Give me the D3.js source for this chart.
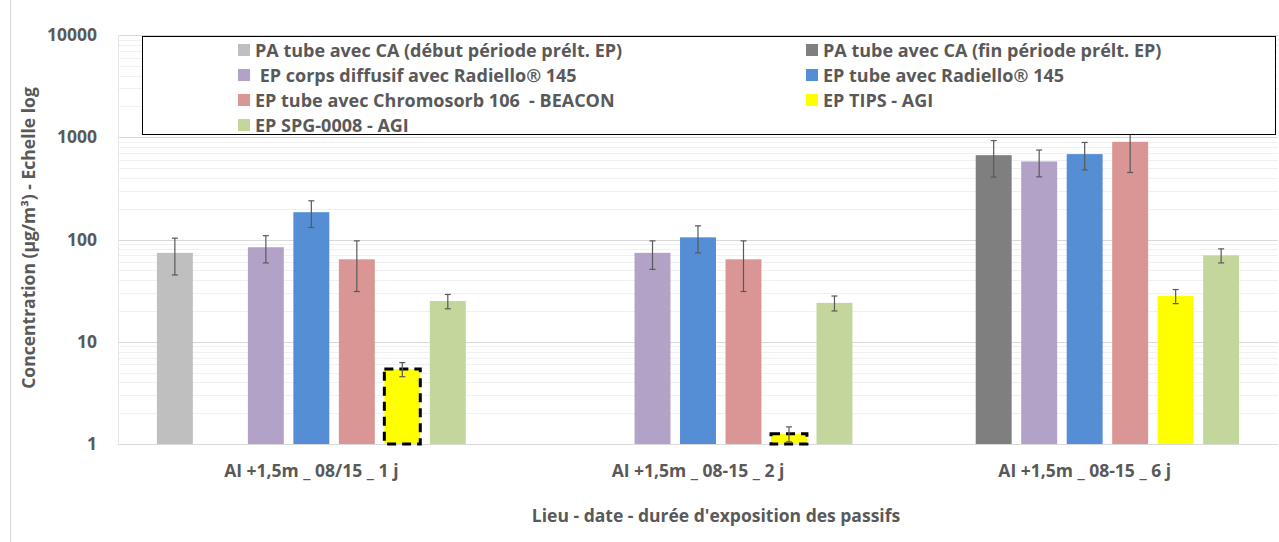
<!DOCTYPE html>
<html>
<head>
<meta charset="utf-8">
<script src="https://cdn.jsdelivr.net/npm/d3@7"></script>
<style>
  body { margin: 0; background: #fff; }
  text { font-family: "Open Sans", Lato, sans-serif; font-weight: bold; fill: #595959; }
</style>
</head>
<body id="viz">
<script>
// Chart data
var categories = ["AI +1,5m _ 08/15 _ 1 j", "AI +1,5m _ 08-15 _ 2 j", "AI +1,5m _ 08-15 _ 6 j"]

var series_names = [
  "PA tube avec CA (début période prélt. EP)",
  "PA tube avec CA (fin période prélt. EP)",
  " EP corps diffusif avec Radiello® 145",
  "EP tube avec Radiello® 145",
  "EP tube avec Chromosorb 106  - BEACON",
  "EP TIPS - AGI",
  "EP SPG-0008 - AGI"
]
var series_colors = ["#bfbfbf", "#7f7f7f", "#b3a2c7", "#558ed5", "#d99694", "#ffff00", "#c3d69b"]

// values per series, one per category (null = no measure)
var pa_debut   = [74, null, null]
var pa_fin     = [null, null, 668]
var ep_corps   = [84, 74, 580]
var ep_radiello = [185, 105, 684]
var ep_chromo  = [64, 64, 902]
var ep_tips    = [5.4, 1.26, 28]
var ep_spg     = [25, 24, 70]

// error (+/-) per series
var err_pa_debut   = [29, null, null]
var err_pa_fin     = [null, null, 260]
var err_ep_corps   = [25, 23, 170]
var err_ep_radiello = [54, 31, 205]
var err_ep_chromo  = [33, 33, 450]
var err_ep_tips    = [0.85, 0.21, 4.4]
var err_ep_spg     = [4, 4, 11]

// TIPS bars below the detection limit get the dashed outline
var tips_dashed = [true, true, false]

var all_values = [pa_debut, pa_fin, ep_corps, ep_radiello, ep_chromo, ep_tips, ep_spg]
var all_errors = [err_pa_debut, err_pa_fin, err_ep_corps, err_ep_radiello, err_ep_chromo, err_ep_tips, err_ep_spg]

// layout
var width = 1279, height = 542
var plot_left = 118, plot_right = 1278, plot_top = 35, plot_bottom = 444

var svg = d3.select("body#viz")
  .append("svg")
  .attr("width", width)
  .attr("height", height)

// outer frame
svg.append("rect")
  .attr("x", 10.5).attr("y", -2)
  .attr("width", width).attr("height", height + 4)
  .attr("fill", "none")
  .attr("stroke", "#d9d9d9")

var y = d3.scaleLog()
  .domain([1, 10000])
  .range([plot_bottom, plot_top])

var x0 = d3.scaleBand()
  .domain(categories)
  .range([plot_left, plot_right])

var x1 = d3.scaleBand()
  .domain(d3.range(series_names.length))
  .range([0, x0.bandwidth()])
  .paddingInner(0.21)
  .paddingOuter(0.855)

// minor gridlines
var minor = []
for (var dec = 1; dec < 10000; dec *= 10) {
  for (var k = 2; k <= 9; k++) minor.push(dec * k)
}
svg.append("g").selectAll("line")
  .data(minor)
  .enter().append("line")
    .attr("x1", plot_left).attr("x2", plot_right)
    .attr("y1", function(d) { return Math.round(y(d)) + 0.5 })
    .attr("y2", function(d) { return Math.round(y(d)) + 0.5 })
    .attr("stroke", "#f0f0f0")

// major gridlines
var majors = [1, 10, 100, 1000, 10000]
svg.append("g").selectAll("line")
  .data(majors)
  .enter().append("line")
    .attr("x1", plot_left).attr("x2", plot_right)
    .attr("y1", function(d) { return Math.round(y(d)) + 0.5 })
    .attr("y2", function(d) { return Math.round(y(d)) + 0.5 })
    .attr("stroke", "#d9d9d9")

// left edge
svg.append("line")
  .attr("x1", plot_left + 0.5).attr("x2", plot_left + 0.5)
  .attr("y1", plot_top).attr("y2", plot_bottom)
  .attr("stroke", "#e6e6e6")

// y axis
var yAxis = d3.axisLeft(y)
  .tickValues(majors)
  .tickFormat(d3.format("d"))
  .tickSize(0)
  .tickPadding(21)
var gy = svg.append("g")
  .attr("transform", "translate(" + plot_left + ",0)")
  .call(yAxis)
gy.select(".domain").remove()
gy.selectAll("text")
  .style("font-size", "17.5px")
  .style("font-family", "\"Open Sans\", sans-serif")
  .attr("fill", "#595959")

// bars
var groups = svg.append("g").selectAll("g")
  .data(categories)
  .enter().append("g")
    .attr("transform", function(d) { return "translate(" + x0(d) + ",0)" })

groups.each(function(cat, ci) {
  var g = d3.select(this)
  var rows = []
  all_values.forEach(function(vals, si) {
    if (vals[ci] != null) rows.push({ s: si, v: vals[ci], e: all_errors[si][ci] })
  })

  g.selectAll("rect.bar")
    .data(rows)
    .enter().append("rect")
      .attr("class", "bar")
      .attr("x", function(d) { return x1(d.s) })
      .attr("y", function(d) { return y(d.v) })
      .attr("width", x1.bandwidth())
      .attr("height", function(d) { return y(1) - y(d.v) })
      .attr("fill", function(d) { return series_colors[d.s] })

  // dashed outline for TIPS bars
  g.selectAll("rect.dash")
    .data(rows.filter(function(d) { return d.s == 5 && tips_dashed[ci] }))
    .enter().append("rect")
      .attr("class", "dash")
      .attr("x", function(d) { return x1(d.s) })
      .attr("y", function(d) { return y(d.v) })
      .attr("width", x1.bandwidth())
      .attr("height", function(d) { return y(1) - y(d.v) })
      .attr("fill", "none")
      .attr("stroke", "#000")
      .attr("stroke-width", 3)
      .attr("stroke-dasharray", "9,6")

  // error bars
  var eb = g.selectAll("g.err")
    .data(rows)
    .enter().append("g")
      .attr("class", "err")
  eb.append("line")
    .attr("x1", function(d) { return x1(d.s) + x1.bandwidth() / 2 })
    .attr("x2", function(d) { return x1(d.s) + x1.bandwidth() / 2 })
    .attr("y1", function(d) { return y(d.v + d.e) })
    .attr("y2", function(d) { return y(Math.max(d.v - d.e, 1)) })
    .attr("stroke", "#595959")
    .attr("stroke-width", 1.2)
  eb.selectAll("line.cap")
    .data(function(d) { return [{ s: d.s, yv: d.v + d.e }, { s: d.s, yv: Math.max(d.v - d.e, 1) }] })
    .enter().append("line")
      .attr("class", "cap")
      .attr("x1", function(d) { return x1(d.s) + x1.bandwidth() / 2 - 3 })
      .attr("x2", function(d) { return x1(d.s) + x1.bandwidth() / 2 + 3 })
      .attr("y1", function(d) { return y(d.yv) })
      .attr("y2", function(d) { return y(d.yv) })
      .attr("stroke", "#595959")
      .attr("stroke-width", 1.2)
})

// x axis labels
var xAxis = d3.axisBottom(x0).tickSize(0).tickPadding(21)
var gx = svg.append("g")
  .attr("transform", "translate(0," + plot_bottom + ")")
  .call(xAxis)
gx.select(".domain").remove()
gx.selectAll("text")
  .style("font-size", "17.5px")
  .style("font-family", "\"Open Sans\", sans-serif")
  .attr("fill", "#595959")

// axis titles
svg.append("text")
  .attr("x", 716)
  .attr("y", 522)
  .attr("text-anchor", "middle")
  .style("font-size", "17.5px")
  .text("Lieu - date - durée d'exposition des passifs")

svg.append("text")
  .attr("transform", "translate(35,238) rotate(-90)")
  .attr("text-anchor", "middle")
  .style("font-size", "17.5px")
  .text("Concentration (µg/m³) - Echelle log")

// legend
var legend = svg.append("g")
legend.append("rect")
  .attr("x", 142.5).attr("y", 36.5)
  .attr("width", 1133).attr("height", 98)
  .attr("fill", "#fff")
  .attr("stroke", "#000")
  .attr("stroke-width", 1)

var leg_items = legend.selectAll("g.item")
  .data(series_names)
  .enter().append("g")
    .attr("class", "item")
    .attr("transform", function(d, i) {
      var col = i % 2, row = Math.floor(i / 2)
      return "translate(" + (col == 0 ? 238 : 806) + "," + (50 + row * 25) + ")"
    })
leg_items.append("rect")
  .attr("x", 0).attr("y", -6)
  .attr("width", 12).attr("height", 12)
  .attr("fill", function(d, i) { return series_colors[i] })
leg_items.append("text")
  .attr("x", 17)
  .attr("y", 6.5)
  .style("font-size", "18px")
  .style("white-space", "pre")
  .text(function(d) { return d })
</script>
</body>
</html>
